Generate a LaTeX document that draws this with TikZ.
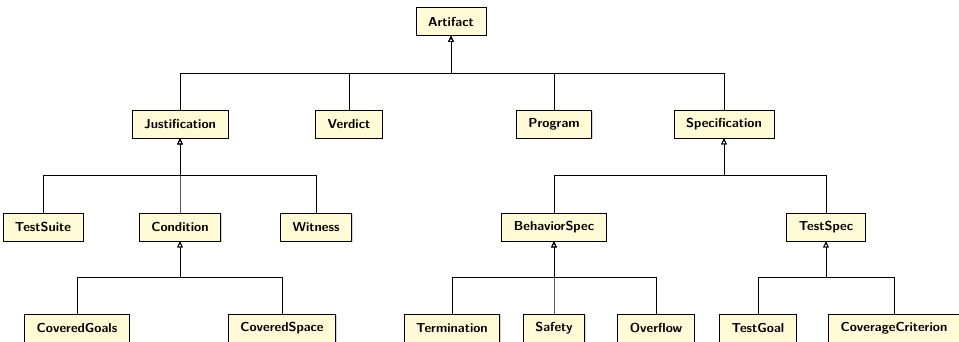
\documentclass[tikz,border=0pt]{standalone}
\usetikzlibrary{arrows.meta, shadows}
\definecolor{classfill}{RGB}{255,251,214}

\begin{document}
\begin{tikzpicture}[x=1pt, y=-1pt,
        cls/.style={draw, fill=classfill, line width=0.7pt, minimum height=28pt, inner xsep=12pt,
            font=\sffamily\bfseries\fontsize{13}{15}\selectfont,
            drop shadow={shadow xshift=1pt, shadow yshift=-1pt, opacity=0.35}},
        inh/.style={-{Triangle[open, length=6pt, width=5.5pt]}, line width=0.8pt}]
        \useasboundingbox (0,0) rectangle (959,342);
        % classes
        \node[cls] (artifact) at (451,21.5) {Artifact};
        \node[cls] (justif) at (180,124) {Justification};
        \node[cls] (verdict) at (349,124) {Verdict};
        \node[cls] (program) at (554,124) {Program};
        \node[cls] (spec) at (724,124) {Specification};
        \node[cls] (tsuite) at (43,227) {TestSuite};
        \node[cls] (cond) at (180,227) {Condition};
        \node[cls] (witness) at (316,227) {Witness};
        \node[cls] (bspec) at (554,227) {BehaviorSpec};
        \node[cls] (tspec) at (826,227) {TestSpec};
        \node[cls] (cgoals) at (77,328) {CoveredGoals};
        \node[cls] (cspace) at (282,328) {CoveredSpace};
        \node[cls] (term) at (452,328) {Termination};
        \node[cls] (safety) at (554,328) {Safety};
        \node[cls] (overflow) at (656,328) {Overflow};
        \node[cls] (tgoal) at (758,328) {TestGoal};
        \node[cls] (ccrit) at (894,328) {CoverageCriterion};
        % bars
        \coordinate (barA) at (0,73);
        \coordinate (barB) at (0,175);
        \coordinate (barC) at (0,277);
        % generalizations
        \foreach \c/\p/\b in {justif/artifact/barA, verdict/artifact/barA, program/artifact/barA, spec/artifact/barA,
                tsuite/justif/barB, cond/justif/barB, witness/justif/barB, bspec/spec/barB, tspec/spec/barB,
                cgoals/cond/barC, cspace/cond/barC, term/bspec/barC, safety/bspec/barC, overflow/bspec/barC,
                tgoal/tspec/barC, ccrit/tspec/barC}
            \draw[inh] (\c) |- (\b -| \p) -- (\p);
\end{tikzpicture}
\end{document}
